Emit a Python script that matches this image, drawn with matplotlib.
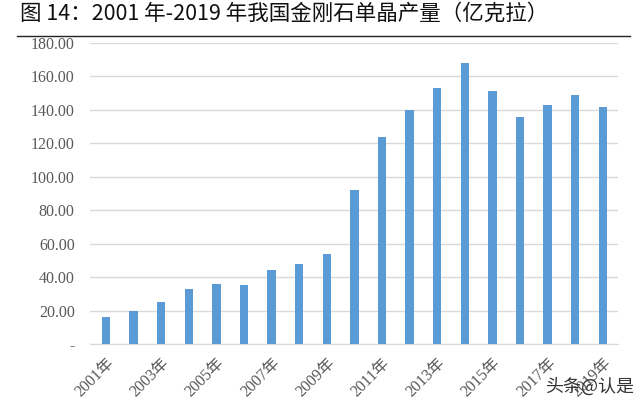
import matplotlib
matplotlib.use("Agg")
import matplotlib.pyplot as plt

plt.rcParams['font.family'] = ['Liberation Serif', 'Noto Sans CJK SC', 'DejaVu Sans']

years = list(range(2001, 2020))
output = [16, 20, 25, 33, 36, 35, 44, 48, 54, 92, 124, 140, 153, 168, 151, 136, 143, 149, 142]
tick_labels = [f"{y}年" if (y - 2001) % 2 == 0 else "" for y in years]
yticks = list(range(0, 181, 20))
ytick_labels = ["-"] + [f"{v:.2f}" for v in yticks[1:]]

fig = plt.figure(figsize=(6.4, 4.13), dpi=100)
ax = fig.add_axes([0.1406, 0.167, 0.825, 0.729])

x = list(range(len(years)))
ax.bar(x, output, width=0.3, color="#5B9BD5", zorder=3)

ax.set_xlim(-0.58, 18.55)
ax.set_ylim(0, 180)
ax.set_yticks(yticks)
ax.set_yticklabels(ytick_labels, fontsize=11.5, color="#595959")
ax.set_xticks(x)
ax.set_xticklabels(tick_labels, rotation=45, ha="right", rotation_mode="anchor",
                   fontsize=11.5, color="#595959")
ax.tick_params(axis="both", length=0)
ax.tick_params(axis="y", pad=11)
ax.tick_params(axis="x", pad=8)
ax.grid(axis="y", color="#D9D9D9", linewidth=1, zorder=0)
for s in ["top", "right", "left"]:
    ax.spines[s].set_visible(False)
ax.spines["bottom"].set_color("#D9D9D9")

fig.text(0.031, 0.966, "图 14：2001 年-2019 年我国金刚石单晶产量（亿克拉）",
         family=['Noto Sans CJK SC', 'DejaVu Sans'], fontsize=15.5,
         va="center", ha="left", color="#111111")
fig.add_artist(plt.Line2D([0.027, 0.985], [0.912, 0.912], color="#222222", linewidth=1))

fig.text(0.99, 0.065, "头条@认是", family=['Noto Sans CJK SC', 'DejaVu Sans'],
         fontsize=13, ha="right", va="center", color="#333333")

fig.savefig("out.png", dpi=100)
